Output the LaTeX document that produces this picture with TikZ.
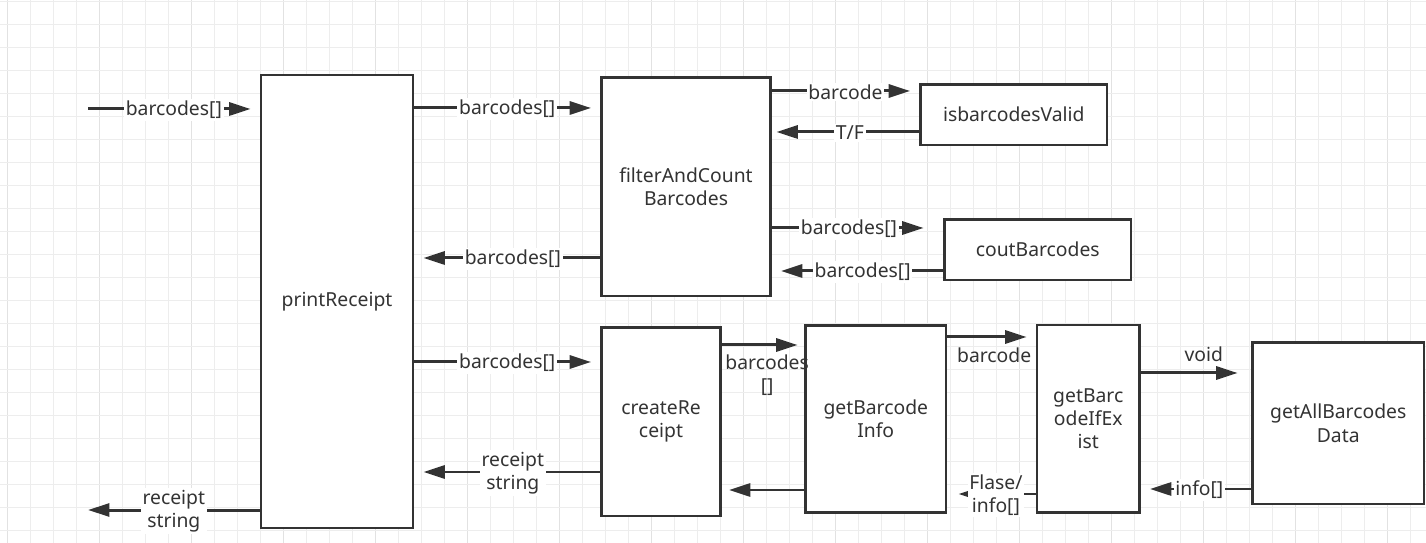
\documentclass[tikz,border=0pt]{standalone}
\usepackage{fontspec}
\setmainfont{Noto Sans}
\usetikzlibrary{arrows.meta}

\definecolor{ink}{HTML}{333333}
\definecolor{gridminor}{HTML}{EDEDED}
\definecolor{gridmajor}{HTML}{E2E2E2}

\tikzset{
  box/.style={draw=ink, line width=0.55mm, fill=white, inner sep=0pt, align=center, text=ink},
  flow/.style={draw=ink, line width=0.6mm, -{Triangle[length=4.3mm,width=2.6mm]}, shorten >=1.8mm},
  lbl/.style={fill=white, inner sep=1pt, text=ink, align=center, yshift=-0.6pt}
}

\begin{document}
\begin{tikzpicture}[x=0.02cm, y=-0.02cm, font=\fontsize{11}{13.2}\selectfont]
\useasboundingbox (0,0) rectangle (1426,543);

% Background grid
\foreach \i in {0,...,61} {
  \pgfmathsetmacro{\gx}{7.7+23*\i}
  \ifnum\numexpr\i-4*(\i/4)\relax=0
    \draw[gridmajor, line width=0.2mm] (\gx,0) -- (\gx,543);
  \else
    \draw[gridminor, line width=0.2mm] (\gx,0) -- (\gx,543);
  \fi
}
\foreach \j in {0,...,23} {
  \pgfmathsetmacro{\gy}{1.7+23*\j}
  \draw[gridminor, line width=0.2mm] (0,\gy) -- (1426,\gy);
}

% Define the function boxes
\node[box, minimum width=3.04cm, minimum height=9.06cm] (printReceipt) at (337,301.5) {printReceipt};
\node[box, minimum width=3.38cm, minimum height=4.37cm] (filter) at (686,186.75) {filterAndCount\\Barcodes};
\node[box, minimum width=3.73cm, minimum height=1.21cm] (isValid) at (1013.75,114.75) {isbarcodesValid};
\node[box, minimum width=3.73cm, minimum height=1.21cm] (cout) at (1037.75,249.75) {coutBarcodes};
\node[box, minimum width=2.38cm, minimum height=3.77cm] (createReceipt) at (661,421.75) {createRe\\ceipt};
\node[box, minimum width=2.81cm, minimum height=3.74cm] (getInfo) at (875.75,419) {getBarcode\\Info};
\node[box, minimum width=2.05cm, minimum height=3.75cm] (ifExist) at (1088.25,418.75) {getBarc\\odeIfEx\\ist};
\node[box, minimum width=3.43cm, minimum height=3.23cm] (allData) at (1338.25,423.25) {getAllBarcodes\\Data};

% Free ends
\coordinate (in) at (88,109);
\coordinate (out) at (88,510);

% Draw the calls and returns
\draw[flow] (in) -- node[lbl] {barcodes[]} (in -| printReceipt.west);
\draw[flow, shorten >=0pt] (printReceipt.west |- out) -- node[lbl] {receipt\\string} (out);

\draw[flow] (printReceipt.east |- 0,108) -- node[lbl] {barcodes[]} (filter.west |- 0,108);
\draw[flow] (filter.west |- 0,258) -- node[lbl, pos=0.47] {barcodes[]} (printReceipt.east |- 0,258);
\draw[flow] (printReceipt.east |- 0,362) -- node[lbl] {barcodes[]} (filter.west |- 0,362);
\draw[flow] (createReceipt.west |- 0,472) -- node[lbl, pos=0.47] {receipt\\string} (printReceipt.east |- 0,472);

\draw[flow] (filter.east |- 0,91) -- node[lbl] {barcode} (isValid.west |- 0,91);
\draw[flow, shorten >=0.9mm] (isValid.west |- 0,132) -- node[lbl, pos=0.47] {T/F} (filter.east |- 0,132);
\draw[flow, shorten >=3.9mm] (filter.east |- 0,228) -- node[lbl, pos=0.45] {barcodes[]} (cout.west |- 0,228);
\draw[flow] (cout.west |- 0,271) -- node[lbl, pos=0.47] {barcodes[]} (filter.east |- 0,271);

\draw[flow, shorten >=1.3mm] (createReceipt.east |- 0,345) -- node[lbl, fill=none, below=3pt, pos=0.55] {barcodes\\{[]}} (getInfo.west |- 0,345);
\draw[flow, shorten >=1.4mm] (getInfo.west |- 0,490) -- (createReceipt.east |- 0,490);
\draw[flow] (getInfo.east |- 0,337) -- node[lbl, fill=none, below=3.5pt, pos=0.53] {barcode} (ifExist.west |- 0,337);
\draw[flow, shorten >=2.2mm] (ifExist.west |- 0,494) -- node[lbl, pos=0.45] {Flase/\\info[]} (getInfo.east |- 0,494);
\draw[flow, shorten >=2.7mm] (ifExist.east |- 0,373) -- node[lbl, fill=none, above=5pt, pos=0.57] {void} (allData.west |- 0,373);
\draw[flow] (allData.west |- 0,489) -- node[lbl, pos=0.47] {info[]} (ifExist.east |- 0,489);
\end{tikzpicture}
\end{document}
